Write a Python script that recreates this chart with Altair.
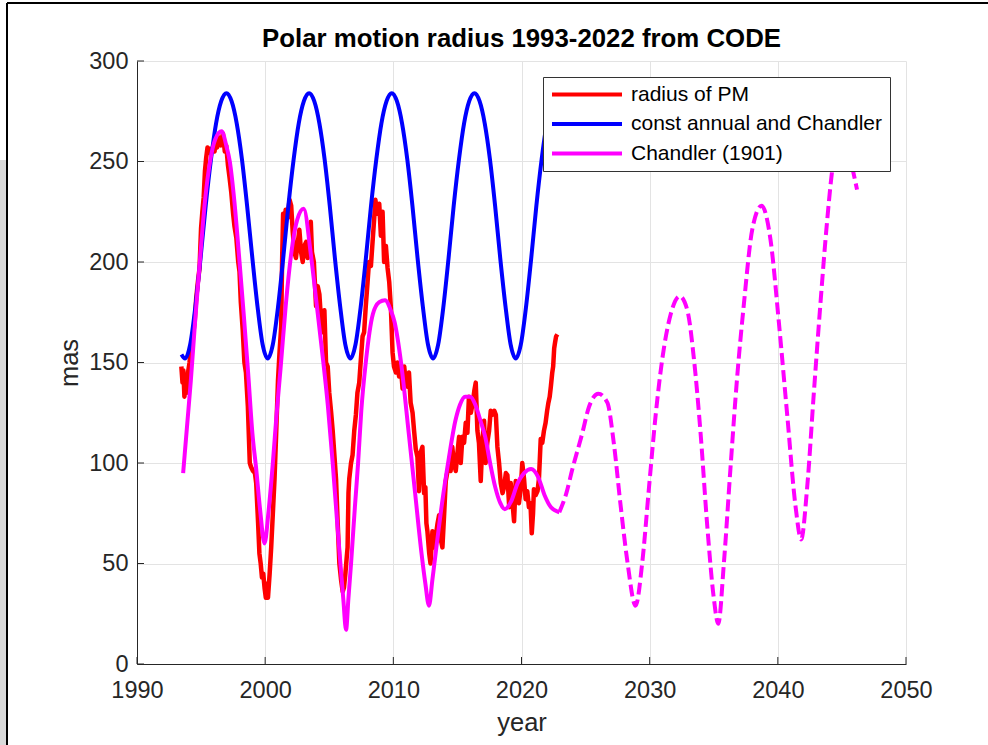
import altair as alt
import pandas as pd

FONT = "Liberation Sans"

title_text = "Polar motion radius 1993-2022 from CODE"
series_names = ["radius of PM", "const annual and Chandler", "Chandler (1901)"]
series_colors = ["#ff0000", "#0000ff", "#ff00ff"]
x_ticks = [1990, 2000, 2010, 2020, 2030, 2040, 2050]
y_ticks = [0, 50, 100, 150, 200, 250, 300]

# radius of PM (observed, noisy)
red_year = [1993.46, 1993.55, 1993.62, 1993.70, 1993.80, 1993.90, 1993.98, 1994.10, 1994.25, 1994.40,
            1994.50, 1994.62, 1994.75, 1994.88, 1995.00, 1995.10, 1995.20, 1995.30, 1995.40, 1995.50,
            1995.62, 1995.75, 1995.90, 1996.05, 1996.15, 1996.25, 1996.40, 1996.55, 1996.70, 1996.85,
            1996.96, 1997.10, 1997.22, 1997.35, 1997.50, 1997.60, 1997.75, 1997.90, 1998.00, 1998.10,
            1998.25, 1998.38, 1998.50, 1998.65, 1998.80, 1998.90, 1999.05, 1999.20, 1999.30, 1999.45,
            1999.55, 1999.65, 1999.75, 1999.85, 1999.95, 2000.05, 2000.15, 2000.22, 2000.35, 2000.47,
            2000.60, 2000.73, 2000.86, 2001.00, 2001.12, 2001.25, 2001.32, 2001.40, 2001.50, 2001.60,
            2001.76, 2001.90, 2002.03, 2002.15, 2002.28, 2002.40, 2002.55, 2002.67, 2002.80, 2002.93,
            2003.05, 2003.20, 2003.32, 2003.45, 2003.56, 2003.65, 2003.80, 2003.97, 2004.10, 2004.23,
            2004.35, 2004.49, 2004.62, 2004.75, 2004.88, 2005.00, 2005.15, 2005.27, 2005.40, 2005.53,
            2005.66, 2005.79, 2005.92, 2006.05, 2006.15, 2006.26, 2006.35, 2006.43, 2006.50, 2006.56,
            2006.70, 2006.82, 2006.95, 2007.08, 2007.20, 2007.34, 2007.45, 2007.60, 2007.72, 2007.85,
            2007.99, 2008.10, 2008.25, 2008.38, 2008.51, 2008.60, 2008.75, 2008.90, 2009.03, 2009.16,
            2009.28, 2009.42, 2009.55, 2009.68, 2009.81, 2009.94, 2010.05, 2010.20, 2010.32, 2010.45,
            2010.60, 2010.72, 2010.85, 2010.97, 2011.10, 2011.22, 2011.35, 2011.50, 2011.62, 2011.75,
            2011.88, 2012.00, 2012.12, 2012.27, 2012.40, 2012.50, 2012.58, 2012.66, 2012.80, 2012.90,
            2013.05, 2013.18, 2013.30, 2013.45, 2013.57, 2013.70, 2013.83, 2013.96, 2014.09, 2014.20,
            2014.35, 2014.47, 2014.60, 2014.72, 2014.87, 2015.00, 2015.13, 2015.26, 2015.39, 2015.52,
            2015.65, 2015.78, 2015.90, 2016.05, 2016.20, 2016.32, 2016.43, 2016.56, 2016.68, 2016.82,
            2016.95, 2017.08, 2017.20, 2017.33, 2017.47, 2017.60, 2017.73, 2017.88, 2018.00, 2018.12,
            2018.25, 2018.38, 2018.52, 2018.64, 2018.78, 2018.90, 2019.04, 2019.16, 2019.30, 2019.42,
            2019.55, 2019.68, 2019.80, 2019.95, 2020.06, 2020.20, 2020.32, 2020.45, 2020.58, 2020.70,
            2020.80, 2020.90, 2020.97, 2021.10, 2021.25, 2021.36, 2021.50, 2021.62, 2021.75, 2021.88,
            2022.00, 2022.10, 2022.20, 2022.29, 2022.40, 2022.47, 2022.55, 2022.62, 2022.70, 2022.80]
red_val = [148, 140, 146, 133, 141, 135, 145, 150, 160, 165,
           170, 182, 190, 197, 217, 225, 232, 245, 252, 257,
           256, 254, 257, 255, 261, 257, 262, 258, 264, 255,
           258, 248, 242, 235, 224, 218, 212, 200, 195, 180,
           166, 150, 145, 128, 100, 98, 96, 95, 90, 70,
           55, 50, 43, 45, 38, 33, 40, 33, 45, 58,
           75, 92, 115, 141, 155, 168, 200, 224, 218, 226,
           222, 231, 228, 215, 205, 202, 210, 216, 205, 200,
           208, 210, 202, 209, 220, 205, 200, 178, 188, 184,
           172, 165, 176, 150, 148, 135, 125, 116, 104, 92,
           70, 50, 42, 36, 38, 45, 52, 58, 85, 92,
           100, 104, 116, 124, 135, 140, 150, 163, 165, 178,
           190, 200, 198, 210, 222, 231, 224, 229, 213, 225,
           200, 208, 197, 190, 177, 155, 148, 145, 150, 143,
           147, 137, 148, 140, 138, 145, 130, 125, 116, 107,
           103, 86, 105, 108, 85, 88, 70, 66, 55, 50,
           66, 58, 63, 70, 74, 62, 58, 74, 91, 95,
           99, 96, 108, 100, 96, 105, 113, 100, 113, 110,
           120, 115, 133, 125, 130, 136, 140, 116, 110, 91,
           111, 121, 100, 110, 116, 126, 124, 126, 124, 108,
           100, 90, 85, 88, 95, 94, 78, 90, 80, 71,
           91, 85, 80, 88, 100, 92, 82, 86, 78, 80,
           65, 75, 87, 84, 86, 92, 112, 110, 116, 120,
           126, 130, 133, 138, 145, 148, 157, 160, 163, 164]

# const annual and Chandler
blue_year = [1993.47, 1993.75, 1994.15, 1994.56, 1994.96, 1995.36, 1995.77, 1996.17, 1996.57, 1996.98,
             1997.38, 1997.78, 1998.19, 1998.59, 1999.00, 1999.40, 1999.80, 2000.20, 2000.60, 2001.01,
             2001.41, 2001.81, 2002.22, 2002.62, 2003.02, 2003.43, 2003.83, 2004.23, 2004.64, 2005.04,
             2005.44, 2005.85, 2006.25, 2006.65, 2007.05, 2007.46, 2007.86, 2008.26, 2008.67, 2009.07,
             2009.47, 2009.88, 2010.28, 2010.68, 2011.09, 2011.49, 2011.89, 2012.30, 2012.70, 2013.10,
             2013.50, 2013.91, 2014.31, 2014.71, 2015.12, 2015.52, 2015.92, 2016.33, 2016.73, 2017.13,
             2017.54, 2017.94, 2018.34, 2018.75, 2019.15, 2019.55, 2019.95, 2020.36, 2020.76, 2021.16,
             2021.57, 2021.97, 2022.37, 2022.78]
blue_val = [154, 152, 159, 178, 202, 228, 251, 269, 280, 284,
            280, 269, 251, 228, 202, 178, 159, 152, 159, 178,
            202, 228, 251, 269, 280, 284, 280, 269, 251, 228,
            202, 178, 159, 152, 159, 178, 202, 228, 251, 269,
            280, 284, 280, 269, 251, 228, 202, 178, 159, 152,
            159, 178, 202, 228, 251, 269, 280, 284, 280, 269,
            251, 228, 202, 178, 159, 152, 159, 178, 202, 228,
            251, 269, 280, 284]

# Chandler (1901), fitted span (solid)
mag_year = [1993.60, 1993.90, 1994.20, 1994.55, 1994.90, 1995.30, 1995.70, 1996.10, 1996.60, 1997.00,
            1997.24, 1997.60, 1998.00, 1998.35, 1998.67, 1999.00, 1999.30, 1999.60, 1999.95, 2000.25,
            2000.60, 2000.90, 2001.20, 2001.60, 2002.05, 2002.50, 2003.00, 2003.58, 2004.00, 2004.54,
            2004.90, 2005.27, 2005.60, 2005.87, 2006.10, 2006.31, 2006.50, 2006.70, 2007.00, 2007.25,
            2007.50, 2007.85, 2008.40, 2008.90, 2009.35, 2009.80, 2010.10, 2010.60, 2011.20, 2011.70,
            2012.20, 2012.50, 2012.78, 2013.05, 2013.30, 2013.80, 2014.32, 2014.84, 2015.20, 2015.60,
            2016.00, 2016.40, 2016.80, 2017.17, 2017.55, 2017.95, 2018.35, 2018.70, 2019.20, 2019.70,
            2020.20, 2020.75, 2021.30, 2021.80, 2022.30, 2022.95]
mag_val = [95, 118, 141, 172, 200, 230, 250, 261, 265, 257,
           250, 230, 200, 172, 145, 115, 97, 77, 60, 75,
           100, 125, 147, 178, 205, 221, 226.5, 203, 180, 150,
           128, 100, 72, 50, 32, 17, 33, 50, 78, 100,
           126, 150, 174, 180, 181, 176, 170, 150, 115, 85,
           55, 40, 29, 42, 55, 80, 102, 121, 129, 133,
           133, 129, 121, 113, 100, 88, 80, 77, 81, 90,
           95, 97, 93, 84, 78, 75.5]

# Chandler (1901), extrapolation (dashed)
magd_year = [2022.95, 2023.50, 2023.97, 2024.75, 2025.27, 2026.00, 2026.70, 2027.20, 2027.74, 2028.26,
             2028.90, 2029.43, 2029.95, 2030.47, 2030.99, 2031.64, 2032.34, 2032.94, 2033.45, 2033.97,
             2034.49, 2035.00, 2035.35, 2035.80, 2036.30, 2036.83, 2037.35, 2038.00, 2038.73, 2039.43,
             2040.08, 2040.73, 2041.38, 2041.82, 2042.29, 2042.80, 2043.32, 2043.84, 2044.23, 2044.70,
             2045.20, 2045.70, 2046.18]
magd_val = [75.5, 85, 97, 115, 128, 134.5, 130, 110, 78.5, 51,
            29, 51, 88, 124, 152, 174, 183, 176, 152, 115,
            69, 33, 20, 51, 97, 143, 179, 216, 228, 211,
            170, 124, 78.5, 62, 88, 134, 179, 220, 245, 262,
            262, 250, 236]

W, H = 769, 603
PAD_L, PAD_T = 137, 61

red_df = pd.DataFrame({"year": red_year, "value": red_val, "series": series_names[0]})
blue_df = pd.DataFrame({"year": blue_year, "value": blue_val, "series": series_names[1]})
mag_df = pd.DataFrame({"year": mag_year, "value": mag_val, "series": series_names[2]})
magd_df = pd.DataFrame({"year": magd_year, "value": magd_val})
xt_df = pd.DataFrame({"year": x_ticks})
yt_df = pd.DataFrame({"value": y_ticks})

xs = alt.Scale(domain=[1990, 2050], nice=False)
ys = alt.Scale(domain=[0, 300], nice=False)
cs = alt.Scale(domain=series_names, range=series_colors)

x_axis = alt.Axis(values=x_ticks, format="d", grid=True, gridColor="#e3e3e3", gridWidth=1,
                  domainColor="#262626", domainWidth=1, ticks=False, labelFlush=False,
                  labelOverlap=False, labelFont=FONT, labelFontSize=23.5, labelColor="#262626",
                  labelPadding=14, titleFont=FONT, titleFontSize=25.5, titleFontWeight="normal",
                  titleColor="#262626", titlePadding=9)
y_axis = alt.Axis(values=y_ticks, format="d", grid=True, gridColor="#e3e3e3", gridWidth=1,
                  domainColor="#262626", domainWidth=1, ticks=False, labelFlush=False,
                  labelOverlap=False, labelFont=FONT, labelFontSize=23.5, labelColor="#262626",
                  labelPadding=9, titleFont=FONT, titleFontSize=25.5, titleFontWeight="normal",
                  titleColor="#262626", titlePadding=6)

X = alt.X("year:Q", scale=xs, axis=x_axis, title="year")
Y = alt.Y("value:Q", scale=ys, axis=y_axis, title="mas")

legend = alt.Legend(title=None, orient="none", legendX=406, legendY=16, direction="vertical",
                    fillColor="#ffffff", strokeColor="#333333", padding=7, cornerRadius=0,
                    symbolType="stroke", symbolSize=4900, symbolStrokeWidth=4, clipHeight=21,
                    rowPadding=7.5, labelFont=FONT, labelFontSize=21, labelColor="#000000",
                    labelOffset=7, labelLimit=400)
C = alt.Color("series:N", scale=cs, legend=legend)

red = alt.Chart(red_df).mark_line(strokeWidth=4.5, strokeJoin="round").encode(x=X, y=Y, color=C)
blue = alt.Chart(blue_df).mark_line(strokeWidth=4, interpolate="monotone").encode(x=X, y=Y, color=C)
mag = alt.Chart(mag_df).mark_line(strokeWidth=4, interpolate="monotone").encode(x=X, y=Y, color=C)
magd = alt.Chart(magd_df).mark_line(strokeWidth=4, interpolate="monotone", strokeDash=[12, 5],
                                    color="#ff00ff").encode(x=X, y=Y)

xticks = alt.Chart(xt_df).mark_rule(color="#262626", strokeWidth=1).encode(
    x=X, y=alt.value(H), y2=alt.value(H - 7))
yticks = alt.Chart(yt_df).mark_rule(color="#262626", strokeWidth=1).encode(
    y=Y, x=alt.value(0), x2=alt.value(7))

# window frame seen in the screenshot
deco_df = pd.DataFrame({"k": [0]})
frame_top = alt.Chart(deco_df).mark_rule(color="#000000", strokeWidth=2).encode(
    x=alt.value(7 - PAD_L), x2=alt.value(988 - PAD_L), y=alt.value(3 - PAD_T))
frame_left = alt.Chart(deco_df).mark_rule(color="#000000", strokeWidth=2).encode(
    x=alt.value(7 - PAD_L), y=alt.value(3 - PAD_T), y2=alt.value(745 - PAD_T))
frame_gray = alt.Chart(deco_df).mark_rect(color="#d9d9d9").encode(
    x=alt.value(0 - PAD_L), x2=alt.value(6 - PAD_L), y=alt.value(160 - PAD_T), y2=alt.value(745 - PAD_T))

# the frame line above the plot raises the title's reference edge; dy compensates
chart = alt.layer(frame_gray, frame_top, frame_left, xticks, yticks, red, blue, mag, magd).properties(
    width=W, height=H,
    autosize=alt.AutoSizeParams(type="none"),
    padding={"left": PAD_L, "top": PAD_T, "right": 988 - PAD_L - W, "bottom": 745 - PAD_T - H},
    background="#ffffff",
    title=alt.TitleParams(text=title_text, font=FONT, fontSize=25.8, fontWeight="bold",
                          color="#000000", anchor="middle", offset=8, baseline="bottom",
                          frame="group", dy=84),
).configure_view(stroke=None)

chart.save("out.html", embed_options={"renderer": "svg", "actions": False})
